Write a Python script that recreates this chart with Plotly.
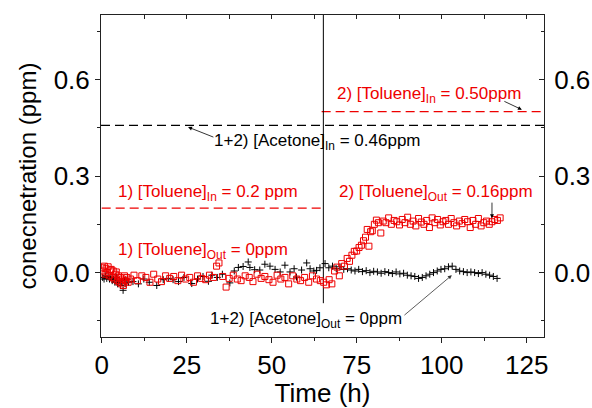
import plotly.graph_objects as go

# ---------------- data ----------------
toluene_out_t = [0.2, 0.5, 0.8, 1.0, 1.3, 1.6, 1.9, 2.2, 2.5, 2.8, 3.1, 3.4, 3.7, 4.0, 4.3, 4.6, 4.9, 5.2, 5.5,
                 5.8, 6.1, 6.4, 6.7, 7.0, 7.4, 7.8,
                 8.5, 9.5, 10.5, 11.8, 13, 14.2, 15.3, 16.5, 17.6, 18.8, 20, 21.2, 22.4, 23.5, 24.7, 25.9, 27,
                 28.2, 29.4, 30.6, 31.7, 32.9, 33.8, 34.5, 35.6, 36.6, 37.5, 38.7, 39.9, 41, 42.2, 43.4, 44.5,
                 45.7, 46.9, 48, 49.2, 50.4, 51.6, 52.7, 53.9, 55, 56.2, 57.4, 58.5, 59.7, 60.9, 62, 63.2, 64.3,
                 65.3, 66.1, 66.9, 67.7, 68.5, 69.2, 69.9, 70.6, 71.4, 72.2, 72.9, 73.6, 74.3, 75, 75.7, 76.4,
                 77, 77.6, 78.1, 78.6, 79.1, 79.6, 80.2, 80.8, 81.4, 82.1,
                 82.8, 83.6, 84.4, 85.2, 86, 86.8, 87.6, 88.4, 89.2, 90, 90.8, 91.6, 92.4, 93.2, 94, 94.8, 95.6,
                 96.4, 97.2, 98, 98.8, 99.6, 100.4, 101.2, 102, 102.8, 103.6, 104.4, 105.2, 106, 106.8, 107.6,
                 108.4, 109.2, 110, 110.8, 111.6, 112.4, 113.2, 114, 114.8, 115.6, 116.4, 117.2]
toluene_out_v = [0.015, 0.005, 0.02, -0.005, 0.012, 0.0, 0.018, -0.01, 0.008, 0.01, -0.015, 0.005, -0.02, -0.005,
                 0.002, -0.025, -0.01, -0.03, -0.015, -0.035, -0.02, -0.04, -0.01, -0.025, -0.015, -0.03,
                 -0.02, -0.008, -0.025, -0.01, -0.015, -0.03, -0.005, -0.02, -0.028, -0.01, -0.018, -0.012,
                 -0.025, -0.008, -0.02, -0.015, -0.03, -0.01, -0.018, -0.022, -0.008, -0.015, 0.02, 0.03,
                 -0.012, -0.045, -0.018, -0.008, -0.02, -0.025, -0.01, -0.015, -0.028, -0.005, -0.018, -0.012,
                 -0.022, -0.03, -0.008, -0.02, -0.015, -0.035, -0.01, -0.02, -0.025, -0.015, -0.03, -0.01,
                 -0.02, -0.025,
                 -0.03, -0.038, -0.022, -0.035, 0.005, 0.017, -0.01, 0.028, 0.02, 0.044, 0.035, 0.054, 0.066,
                 0.067, 0.078, 0.085, 0.099, 0.11, 0.134, 0.082, 0.127, 0.13, 0.15, 0.163, 0.155, 0.123,
                 0.16, 0.155, 0.17, 0.15, 0.162, 0.158, 0.148, 0.165, 0.155, 0.172, 0.15, 0.16, 0.145, 0.168,
                 0.157, 0.15, 0.162, 0.14, 0.17, 0.155, 0.165, 0.148, 0.158, 0.162, 0.15, 0.168, 0.155, 0.145,
                 0.16, 0.152, 0.165, 0.158, 0.14, 0.162, 0.15, 0.168, 0.145, 0.155, 0.16, 0.15, 0.158, 0.165,
                 0.162, 0.17]

acetone_out_t = [0.3, 0.7, 1.1, 1.5, 1.9, 2.3, 2.7, 3.1, 3.5, 3.9, 4.3, 4.7, 5.1, 5.5, 5.9, 6.3, 6.7, 7.1, 7.5, 7.9,
                 9.2, 10.8, 12.4, 14, 16.2, 18.1, 19.6, 21, 22.6, 24.2, 26.5, 28.2, 29.8, 31.4, 32.4, 34, 35.5,
                 37.7, 39, 40.2, 41.6, 43.1, 43.6, 45, 46.5, 48, 49.5, 51, 52.5, 53.9, 55.4, 56.6, 57.3, 58.8,
                 60.3, 61.3, 62.4, 63.2, 64.2,
                 65.7, 66.8, 67.9, 69, 70.1, 71.2, 72.3, 73.4, 74.5, 75.6, 76.7, 77.8, 78.9, 80, 81.1, 82.2,
                 83.3, 84.4, 85.5, 86.6, 87.7, 88.8, 89.9, 91, 92.1, 93.2, 94.3, 95.4, 96.5, 97.6, 98.7, 99.8,
                 100.9, 102, 103.1, 104.2, 105.3, 106.4, 107.5, 108.6, 109.7, 110.8, 111.9, 113, 114.1, 115.2,
                 116.3]
acetone_out_v = [-0.015, -0.02, -0.01, -0.018, -0.012, -0.02, -0.015, -0.025, -0.02, -0.03, -0.015, -0.035,
                 -0.025, -0.04, -0.03, -0.055, -0.025, -0.035, -0.02, -0.03,
                 -0.028, -0.035, -0.02, -0.03, -0.04, -0.022, -0.018, -0.022, -0.028, -0.015, -0.034, -0.02,
                 -0.012, -0.027, -0.008, -0.015, -0.005, -0.032, 0.005, 0.016, 0.019, 0.033, 0.016, 0.009,
                 0.008, 0.026, 0.02, 0.01, 0.002, 0.023, 0.002, 0.012, -0.014, 0.008, 0.03, 0.012, 0.005,
                 0.007, 0.015,
                 0.028, 0.015, 0.02, 0.012, 0.018, 0.01, 0.012, 0.008, 0.005, 0.01, 0.003, 0.006, 0.0, 0.004,
                 0.002, -0.002, 0.003, 0.0, -0.003, 0.002, -0.004, -0.002, -0.008, -0.01, -0.012, -0.018,
                 -0.015, -0.01, -0.005, 0.0, 0.005, 0.01, 0.012, 0.018, 0.02, 0.01, 0.005, 0.003, 0.0, 0.002,
                 0.0, -0.003, 0.0, -0.005, -0.008, -0.012, -0.018]

acetone_in_level = 0.457
acetone_in_span = [-0.2, 130.1]
toluene_in_1_level = 0.2
toluene_in_1_span = [0, 65.2]
toluene_in_2_level = 0.5
toluene_in_2_span = [64.7, 130.1]
switch_time = 65.2
switch_span = [-0.095, 0.8]

x_ticks = [0, 25, 50, 75, 100, 125]
y_ticks = [0.0, 0.3, 0.6]
y_tick_text = ["0.0", "0.3", "0.6"]
y_minor = [-0.15, 0.15, 0.45, 0.75]
x_range = [-0.2, 130.1]
y_range = [-0.2, 0.8]

FONT = "Arial, Liberation Sans, sans-serif"
RED = "#ee0000"

fig = go.Figure()

# reference (inlet) levels
fig.add_trace(go.Scatter(x=acetone_in_span, y=[acetone_in_level] * 2, mode="lines",
                         line=dict(color="black", width=1.3, dash="9px,5px"), showlegend=False, hoverinfo="skip"))
fig.add_trace(go.Scatter(x=toluene_in_1_span, y=[toluene_in_1_level] * 2, mode="lines",
                         line=dict(color=RED, width=1.3, dash="9px,5px"), showlegend=False, hoverinfo="skip"))
fig.add_trace(go.Scatter(x=toluene_in_2_span, y=[toluene_in_2_level] * 2, mode="lines",
                         line=dict(color=RED, width=1.3, dash="9px,5px"), showlegend=False, hoverinfo="skip"))
fig.add_trace(go.Scatter(x=[switch_time, switch_time], y=switch_span, mode="lines",
                         line=dict(color="black", width=1), showlegend=False, hoverinfo="skip"))

# measured outlet
fig.add_trace(go.Scatter(x=acetone_out_t, y=acetone_out_v, mode="markers", showlegend=False,
                         marker=dict(symbol="cross-thin", size=5, color="black",
                                     line=dict(color="black", width=1))))
fig.add_trace(go.Scatter(x=toluene_out_t, y=toluene_out_v, mode="markers", showlegend=False,
                         marker=dict(symbol="square-open", size=6, color=RED,
                                     line=dict(color=RED, width=1))))

# dummy trace to bring up mirrored axes
fig.add_trace(go.Scatter(x=[None], y=[None], xaxis="x2", yaxis="y2", showlegend=False, hoverinfo="skip"))

tick_font = dict(family=FONT, size=26, color="black")
ann_font = dict(family=FONT, size=17)
annotations = [
    dict(x=63.6, y=0.405, text="1+2) [Acetone]<sub>In</sub> = 0.46ppm", font=dict(ann_font, color="black")),
    dict(x=31.3, y=0.248, text="1) [Toluene]<sub>In</sub> = 0.2 ppm", font=dict(ann_font, color=RED)),
    dict(x=96.3, y=0.553, text="2) [Toluene]<sub>In</sub> = 0.50ppm", font=dict(ann_font, color=RED)),
    dict(x=98.3, y=0.248, text="2) [Toluene]<sub>Out</sub> = 0.16ppm", font=dict(ann_font, color=RED)),
    dict(x=29.9, y=0.068, text="1) [Toluene]<sub>Out</sub> = 0ppm", font=dict(ann_font, color=RED)),
    dict(x=60.1, y=-0.148, text="1+2) [Acetone]<sub>Out</sub> = 0ppm", font=dict(ann_font, color="black")),
]
for a in annotations:
    a.update(xref="x", yref="y", showarrow=False, xanchor="center", yanchor="middle")

arrows = [
    ((33.3, 0.419), (25.4, 0.452), "black"),
    ((118.0, 0.534), (123.6, 0.506), "black"),
    ((114.8, 0.222), (114.8, 0.169), "black"),
    ((88.6, -0.136), (103.0, -0.008), "#333333"),
]
for (tx, ty), (hx, hy), c in arrows:
    annotations.append(dict(x=hx, y=hy, ax=tx, ay=ty, xref="x", yref="y", axref="x", ayref="y",
                            text="", showarrow=True, arrowhead=2, arrowsize=1, arrowwidth=0.8,
                            arrowcolor=c))

axis_common = dict(showgrid=False, zeroline=False, showline=True, linecolor="#222222", linewidth=1,
                   tickcolor="#222222", tickwidth=1, automargin=False)

fig.update_layout(
    width=592, height=408,
    margin=dict(l=101, r=48, t=15, b=71),
    paper_bgcolor="white", plot_bgcolor="white",
    font=dict(family=FONT, color="black"),
    annotations=annotations,
    xaxis=dict(axis_common, range=x_range, tickvals=x_ticks, ticks="outside", ticklen=5,
               tickfont=tick_font, ticklabelstandoff=0,
               minor=dict(dtick=12.5, tick0=0, ticks="outside", ticklen=3, tickcolor="#222222"),
               title=dict(text="Time (h)", font=dict(family=FONT, size=26), standoff=16)),
    xaxis2=dict(axis_common, range=x_range, overlaying="x", side="top", anchor="y",
                tickmode="linear", tick0=0, dtick=12.5, ticks="inside", ticklen=4,
                showticklabels=False),
    yaxis=dict(axis_common, range=y_range, tickvals=y_ticks, ticktext=y_tick_text, ticks="outside",
               ticklen=5, tickfont=tick_font,
               minor=dict(tickvals=y_minor, ticks="outside", ticklen=3, tickcolor="#222222"),
               title=dict(text="conecnetration (ppm)", font=dict(family=FONT, size=24), standoff=10)),
    yaxis2=dict(axis_common, range=y_range, overlaying="y", side="right", anchor="x",
                tickvals=y_ticks, ticktext=y_tick_text, ticks="inside", ticklen=5, tickfont=tick_font,
                ticklabelstandoff=4,
                minor=dict(tickvals=y_minor, ticks="inside", ticklen=3, tickcolor="#222222")),
)

fig.write_html("out.html")
